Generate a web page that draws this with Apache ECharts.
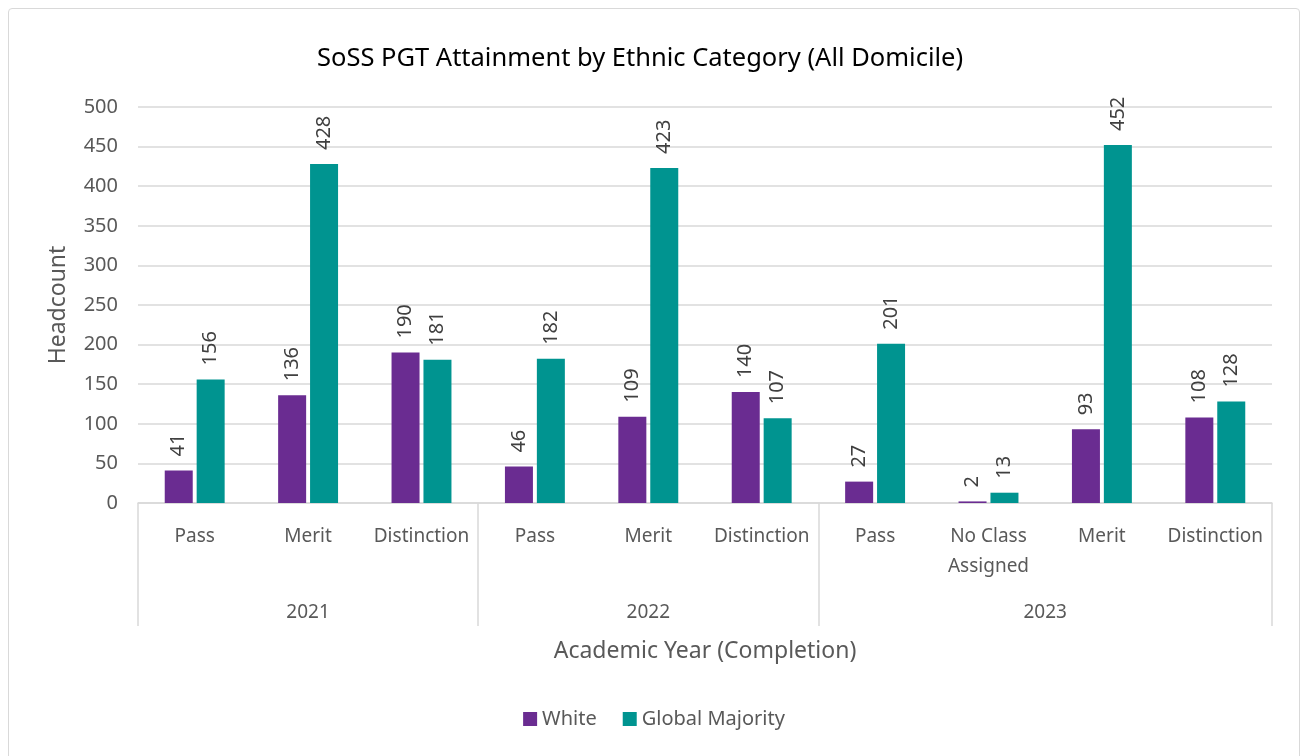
<!DOCTYPE html>
<html>
<head>
<meta charset="utf-8">
<script src="https://cdn.jsdelivr.net/npm/echarts@6/dist/echarts.min.js"></script>
<style>
  html, body { margin: 0; padding: 0; background: #fff; }
  #main { position: absolute; left: 8px; top: 8px; width: 1292px; height: 760px;
          border: 1px solid #d9d9d9; border-radius: 4px; box-sizing: border-box; }
</style>
</head>
<body>
<div id="main"></div>
<script>
const categories = ['Pass', 'Merit', 'Distinction', 'Pass', 'Merit', 'Distinction',
  'Pass', 'No Class\nAssigned', 'Merit', 'Distinction']
const years = ['2021', '2022', '2023']
const groupSizes = [3, 3, 4]
const whiteValues = [41, 136, 190, 46, 109, 140, 27, 2, 93, 108]
const globalMajorityValues = [156, 428, 181, 182, 423, 107, 201, 13, 452, 128]

// group boundaries and centres, in category units
const bounds = [0]
const centres = []
groupSizes.forEach((n, i) => {
  centres.push(bounds[i] + n / 2)
  bounds.push(bounds[i] + n)
})

const chart = echarts.init(document.getElementById('main'))
const font = 'Noto Sans'
const grey = '#595959'
const lineGrey = '#d9d9d9'

const barLabel = {
  show: true,
  position: 'top',
  rotate: 90,
  align: 'left',
  verticalAlign: 'middle',
  distance: 14,
  fontFamily: font,
  fontSize: 20,
  color: '#404040',
}

const option = {
  animation: false,
  textStyle: { fontFamily: font },
  title: {
    text: 'SoSS PGT Attainment by Ethnic Category (All Domicile)',
    left: 303,
    top: 32,
    textStyle: { fontFamily: font, fontSize: 25.5, fontWeight: 'normal', color: '#000' },
  },
  grid: { left: 129, right: 27, top: 98, bottom: 264 },
  legend: {
    top: 695,
    left: 'center',
    icon: 'rect',
    itemWidth: 14,
    itemHeight: 14,
    itemGap: 26,
    textStyle: { fontFamily: font, fontSize: 20, color: grey },
    data: ['White', 'Global Majority'],
  },
  xAxis: [
    {
      type: 'category',
      data: categories,
      position: 'bottom',
      name: 'Academic Year (Completion)',
      nameLocation: 'middle',
      nameGap: 137,
      nameTextStyle: { fontFamily: font, fontSize: 23, color: grey },
      axisLine: { lineStyle: { color: lineGrey, width: 1.5 } },
      axisTick: { show: false },
      axisLabel: {
        interval: 0,
        margin: 19,
        lineHeight: 30,
        fontFamily: font,
        fontSize: 19,
        color: grey,
      },
    },
    {
      type: 'value',
      min: 0,
      max: categories.length,
      position: 'bottom',
      splitLine: { show: false },
      axisLine: { show: false },
      axisTick: {
        show: true,
        length: 123,
        customValues: bounds,
        lineStyle: { color: lineGrey, width: 1.5 },
      },
      axisLabel: {
        customValues: centres,
        margin: 95,
        lineHeight: 30,
        fontFamily: font,
        fontSize: 19,
        color: grey,
        formatter: (v) => years[centres.indexOf(v)] || '',
      },
    },
  ],
  yAxis: {
    type: 'value',
    min: 0,
    max: 500,
    interval: 50,
    name: 'Headcount',
    nameLocation: 'middle',
    nameGap: 68,
    nameTextStyle: { fontFamily: font, fontSize: 23, color: grey },
    axisLine: { show: false },
    axisTick: { show: false },
    axisLabel: { margin: 20, fontFamily: font, fontSize: 20, color: grey },
    splitLine: { lineStyle: { color: lineGrey, width: 1.5 } },
  },
  series: [
    {
      name: 'White',
      type: 'bar',
      data: whiteValues,
      barWidth: 28,
      barGap: '14%',
      itemStyle: { color: '#6a2c91' },
      label: barLabel,
    },
    {
      name: 'Global Majority',
      type: 'bar',
      data: globalMajorityValues,
      barWidth: 28,
      itemStyle: { color: '#009490' },
      label: barLabel,
    },
  ],
}
chart.setOption(option)
</script>
</body>
</html>
